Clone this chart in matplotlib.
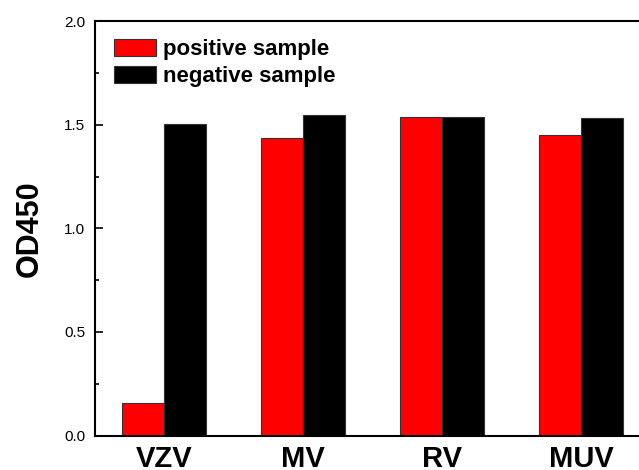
import numpy as np
import matplotlib.pyplot as plt
from matplotlib.ticker import MultipleLocator

plt.rcParams["font.family"] = ["Liberation Sans", "DejaVu Sans"]

viruses  = ["VZV", "MV", "RV", "MUV"]
positive = [0.158, 1.436, 1.540, 1.453]
negative = [1.505, 1.548, 1.537, 1.535]

x = np.arange(len(viruses))
width = 0.3

fig = plt.figure(figsize=(6.39, 4.70), dpi=100)
ax = fig.add_axes([0.1479, 0.0734, 0.870, 0.8809])

ax.bar(x - width / 2, positive, width, color="#FF0000", edgecolor="#333333",
       linewidth=0.8, label="positive sample")
ax.bar(x + width / 2, negative, width, color="black", edgecolor="#333333",
       linewidth=0.8, label="negative sample")

ax.set_xlim(-0.5, 3.5)
ax.set_ylim(0, 2.0)
ax.set_xticks(x)
ax.set_xticklabels(viruses, fontsize=21, fontweight="bold")
ax.yaxis.set_major_locator(MultipleLocator(0.5))
ax.yaxis.set_minor_locator(MultipleLocator(0.25))
ax.tick_params(axis="x", length=0, pad=6.5)
ax.tick_params(axis="y", which="major", direction="in", length=6, width=1.2,
               labelsize=11, pad=6.5)
ax.tick_params(axis="y", which="minor", direction="in", length=3, width=1.2)
ax.set_ylabel("OD450", fontsize=22, fontweight="bold", labelpad=14)

for side in ["left", "bottom", "top", "right"]:
    ax.spines[side].set_linewidth(1.5)

ax.legend(loc="upper left", bbox_to_anchor=(0.035, 0.958), frameon=False,
          prop={"size": 16, "weight": "bold"}, handlelength=1.9,
          handleheight=0.8, handletextpad=0.3, labelspacing=0.25,
          borderpad=0, borderaxespad=0)

plt.savefig("out.png", dpi=100)
